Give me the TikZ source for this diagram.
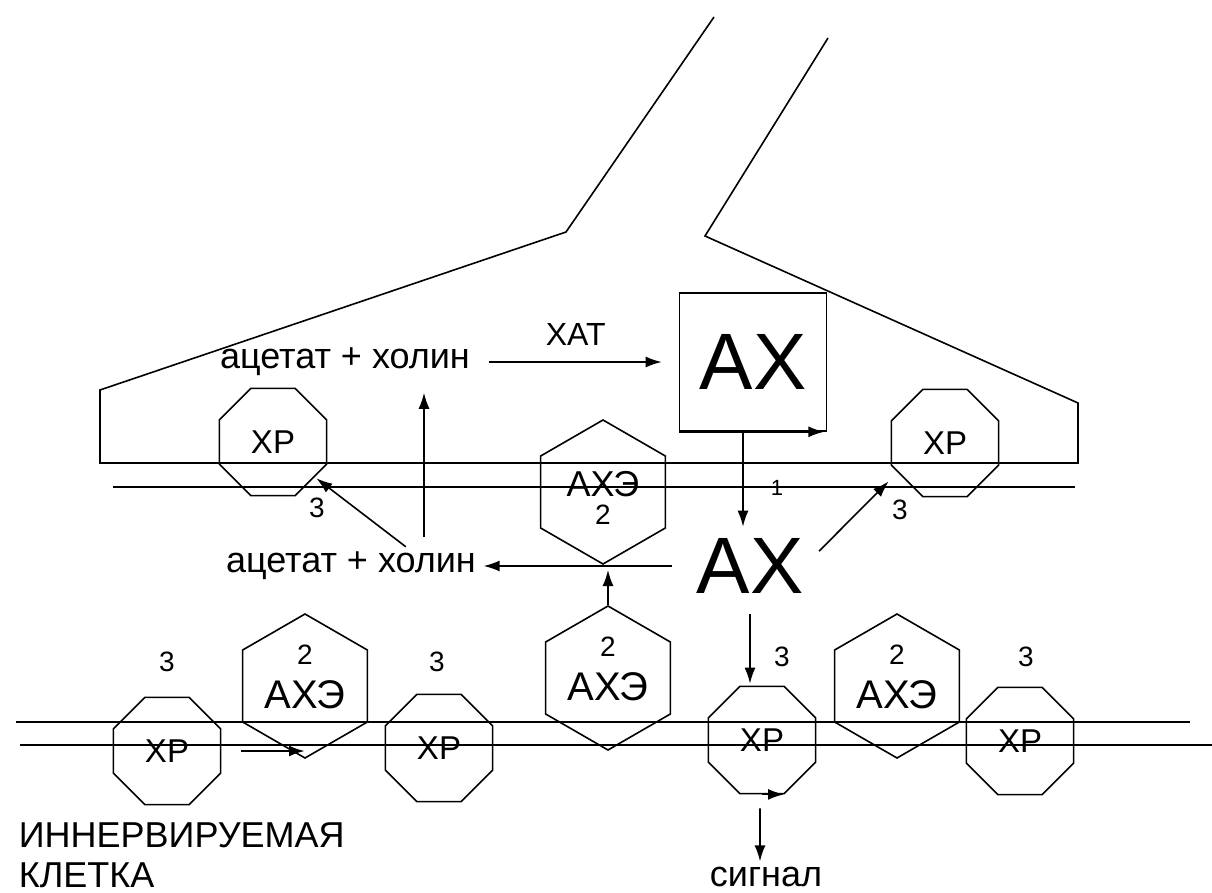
\documentclass[tikz,border=0pt]{standalone}
\usepackage{fontspec}
\setmainfont{Liberation Sans}
\usetikzlibrary{shapes.geometric, arrows.meta, calc}

\begin{document}
\begin{tikzpicture}[
    x=1pt, y=-1pt,
    line width=1.6pt,
    every node/.style={font=\fontsize{36}{40}\selectfont, inner sep=2pt},
    recep/.style={regular polygon, regular polygon sides=8, draw, minimum size=116pt, inner sep=0pt, font=\fontsize{33}{36}\selectfont},
    enzyme/.style={regular polygon, regular polygon sides=6, shape border rotate=30, draw, minimum size=144pt, inner sep=0pt},
    enztxt/.style={font=\fontsize{40}{44}\selectfont, inner sep=0pt},
    num/.style={font=\fontsize{28}{30}\selectfont, inner sep=0pt},
    big/.style={font=\fontsize{80}{84}\selectfont, inner sep=0pt},
    arrow/.style={-{Latex[length=16pt,width=11pt]}}
]
\useasboundingbox (0,0) rectangle (1212,893);

% Presynaptic terminal
\draw (714,17) -- (566,232) -- (100,390) -- (100,463) -- (1078,463) -- (1078,403) -- (705,236) -- (828,38);
\draw (113,487) -- (1075,487);

% Postsynaptic membrane
\draw (16,722) -- (1190,722);
\draw (20,745) -- (1212,745);

% Synthesis
\node (acch_top) at (345,362) {ацетат + холин};
\node[draw, minimum width=147pt, minimum height=138pt, big] (ax_box) at (753,362) {АХ};
\node[big] (ax_free) at (750,566) {АХ};
\node (acch_bot) at (351,566) {ацетат + холин};
\coordinate (rise) at (424,0);

% Receptors
\node[recep] (xr_tl) at (273,442) {ХР};
\node[recep] (xr_tr) at (945,443) {ХР};
\node[recep] (xr_1) at (167,751) {ХР};
\node[recep] (xr_2) at (439,748) {ХР};
\node[recep] (xr_3) at (762,740) {ХР};
\node[recep] (xr_4) at (1020,741) {ХР};

% Cholinesterase
\node[enzyme] (ache_top) at (603,492) {};
\node[enztxt, font=\fontsize{36}{40}\selectfont] (ache_top_t) at ($(ache_top)+(0,-8)$) {АХЭ};
\node[num] (ache_top_n) at ($(ache_top)+(0,23)$) {2};
\node[enzyme] (ache_1) at (305,686) {};
\node[enzyme] (ache_2) at (608,678) {};
\node[enzyme] (ache_3) at (897,686) {};
\foreach \h in {ache_1,ache_2,ache_3}{
    \node[enztxt] (\h_t) at ($(\h)+(0,9)$) {АХЭ};
    \node[num] (\h_n) at ($(\h)+(0,-31)$) {2};
}

% Numbers
\node[num] (n3_tl) at (317,508) {3};
\node[num] (n3_tr) at (900,510) {3};
\node[num] (n3_1) at (167,662) {3};
\node[num] (n3_2) at (437,662) {3};
\node[num] (n3_3) at (782,657) {3};
\node[num] (n3_4) at (1026,657) {3};
\node[num, font=\fontsize{22}{24}\selectfont] (n1) at (777,488) {1};

% Labels
\node (signal) at (766,877) {сигнал};
\node[align=left, anchor=west] (cell) at (16,855) {ИННЕРВИРУЕМАЯ\\КЛЕТКА};

% Arrows
\draw[arrow, shorten <=16pt, shorten >=17pt] (acch_top.east) -- node[above=14pt, font=\fontsize{32}{36}\selectfont] (hat) {ХАТ} (ax_box.west);
\draw[arrow, shorten >=3pt] (ax_box.south west) -- (ax_box.south east);
\draw[arrow, shorten >=11pt] ([xshift=-10pt]ax_box.south) -- ([xshift=-7pt]ax_free.north);
\draw[arrow, shorten <=4pt] ([shift={(12,-12)}]ax_free.east) -- ([xshift=-18pt]xr_tr.225);
\draw[arrow, shorten >=5pt] ([xshift=-24pt]ax_free.west |- acch_bot.east) -- (acch_bot.east);
\draw[arrow, shorten >=4pt] (ache_2.90) -- (ache_2.90 |- acch_bot.east);
\draw[arrow, shorten <=12pt, shorten >=14pt] (acch_bot.north -| rise) -- (acch_top.south -| rise);
\draw[arrow, shorten <=4pt, shorten >=2pt] ([xshift=58pt]acch_bot.north) -- (xr_tl.320);
\draw[arrow, shorten <=20pt, shorten >=2pt] (ax_free.south) -- (ax_free.south |- xr_3.north);
\draw[arrow] (xr_3.south) -- ([xshift=22pt]xr_3.south);
\draw[arrow, shorten <=14pt, shorten >=3pt] ([xshift=-2pt]xr_3.south) -- ([xshift=-6pt]signal.north);
\draw[arrow, line width=2.4pt, shorten <=20pt] (xr_1.east) -- (xr_1.east -| ache_1.south);

\end{tikzpicture}
\end{document}
